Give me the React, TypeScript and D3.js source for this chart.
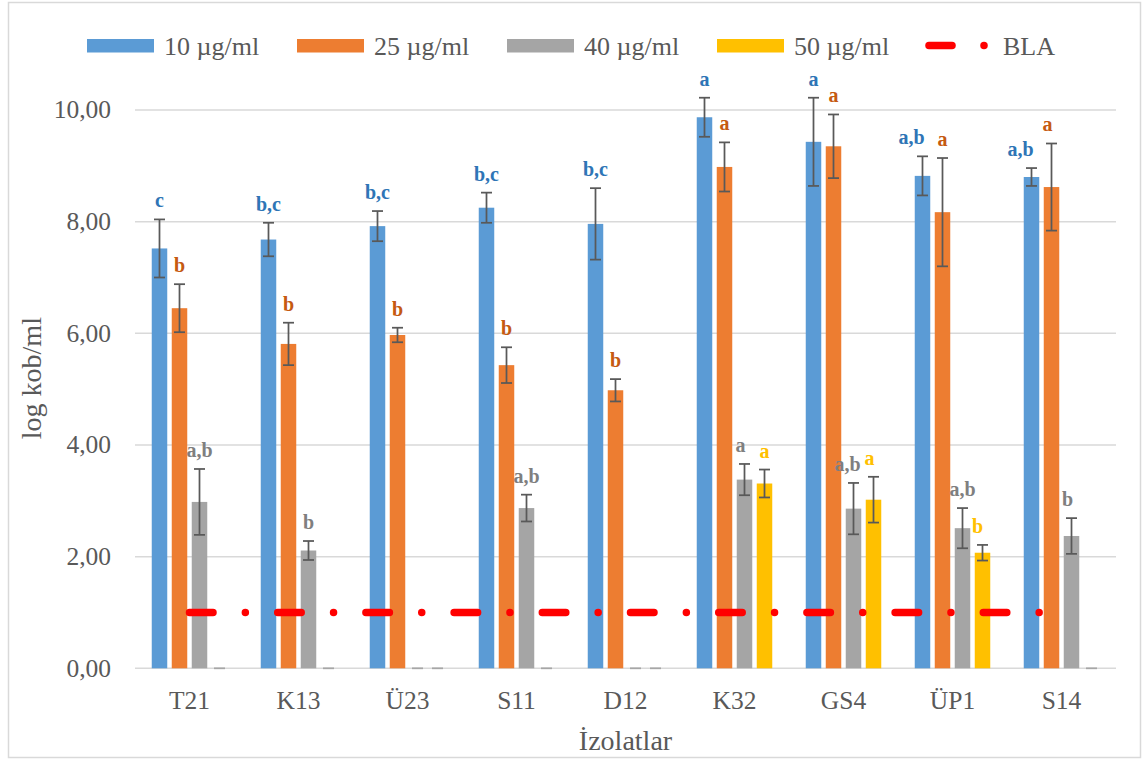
import React from "react";
import * as d3 from "d3";

// Isolates on the category axis
const categories = ["T21", "K13", "Ü23", "S11", "D12", "K32", "GS4", "ÜP1", "S14"];

// Series names (concentrations)
const seriesNames = ["10 µg/ml", "25 µg/ml", "40 µg/ml", "50 µg/ml"];

// Mean log kob/ml per isolate for each concentration
const mean10 = [7.52, 7.68, 7.92, 8.25, 7.96, 9.87, 9.43, 8.82, 8.8];
const mean25 = [6.45, 5.81, 5.97, 5.43, 4.98, 8.98, 9.35, 8.17, 8.62];
const mean40 = [2.98, 2.11, 0, 2.87, 0, 3.38, 2.86, 2.51, 2.37];
const mean50 = [0, 0, 0, 0, 0, 3.31, 3.02, 2.07, 0];

// Standard deviations (error bars)
const err10 = [0.52, 0.3, 0.27, 0.27, 0.64, 0.35, 0.79, 0.35, 0.16];
const err25 = [0.43, 0.38, 0.13, 0.32, 0.2, 0.44, 0.57, 0.97, 0.78];
const err40 = [0.59, 0.17, 0, 0.24, 0, 0.28, 0.46, 0.36, 0.32];
const err50 = [0, 0, 0, 0, 0, 0.25, 0.41, 0.14, 0];

// Significance letters
const letters10 = ["c", "b,c", "b,c", "b,c", "b,c", "a", "a", "a,b", "a,b"];
const letters25 = ["b", "b", "b", "b", "b", "a", "a", "a", "a"];
const letters40 = ["a,b", "b", "", "a,b", "", "a", "a,b", "a,b", "b"];
const letters50 = ["", "", "", "", "", "a", "a", "b", ""];

// Detection limit (BLA)
const bla = [1, 1, 1, 1, 1, 1, 1, 1, 1];

// Y axis ticks
const yTicks = [0, 2, 4, 6, 8, 10];

const means = [mean10, mean25, mean40, mean50];
const errs = [err10, err25, err40, err50];
const letters = [letters10, letters25, letters40, letters50];

const barColors = ["#5B9BD5", "#ED7D31", "#A5A5A5", "#FFC000"];
const letterColors = ["#2E75B6", "#C55A11", "#7F7F7F", "#FFC000"];
const FONT = "'Liberation Serif', 'Times New Roman', serif";
const TEXT = "#595959";

// Small horizontal nudges for letters that would collide with neighbours
const letterNudge: Record<string, number> = {
  "7-0": -11,
  "8-0": -11,
  "8-1": -4,
  "5-2": -4,
  "6-2": -6,
  "6-3": -4,
  "7-3": -5,
  "8-2": -4,
};

const fmt = (v: number) => v.toFixed(2).replace(".", ",");

export default function App() {
  const W = 1142;
  const H = 760;
  const plot = { left: 135, right: 1116, top: 110, bottom: 668.3 };

  const x0 = d3
    .scaleBand<string>()
    .domain(categories)
    .range([plot.left, plot.right])
    .paddingInner(0)
    .paddingOuter(0);

  const groupW = x0.bandwidth() * 0.6927;
  const groupOff = (x0.bandwidth() - groupW) / 2;
  const x1 = d3
    .scaleBand<number>()
    .domain([0, 1, 2, 3])
    .range([groupOff, groupOff + groupW])
    .paddingInner(0.225)
    .paddingOuter(0);

  const y = d3.scaleLinear().domain([0, 10]).range([plot.bottom, plot.top]);

  const centerX = (c: string) => (x0(c) as number) + x0.bandwidth() / 2;
  const blaLine = d3
    .line<number>()
    .x((_, i) => centerX(categories[i]))
    .y((d) => y(d));

  const capHalf = 5.5;

  return (
    <svg
      width={W}
      height={H}
      style={{ position: "absolute", left: 0, top: 0, background: "#fff" }}
      fontFamily={FONT}
    >
      <rect x={8.5} y={2.5} width={1132} height={755} fill="#fff" stroke="#d9d9d9" strokeWidth={1.5} />

      {/* gridlines */}
      {yTicks.map((t) => (
        <line
          key={"g" + t}
          x1={plot.left}
          x2={plot.right}
          y1={y(t)}
          y2={y(t)}
          stroke="#d9d9d9"
          strokeWidth={1.5}
        />
      ))}

      {/* y tick labels */}
      {yTicks.map((t) => (
        <text
          key={"t" + t}
          x={111}
          y={y(t)}
          dy="0.33em"
          textAnchor="end"
          fontSize={25.5}
          fill={TEXT}
        >
          {fmt(t)}
        </text>
      ))}

      {/* y axis title */}
      <text
        transform={`translate(41,${(plot.top + plot.bottom) / 2 - 11}) rotate(-90)`}
        textAnchor="middle"
        fontSize={28}
        fill={TEXT}
      >
        log kob/ml
      </text>

      {/* bars */}
      {categories.map((c, ci) =>
        means.map((vals, si) => {
          const v = vals[ci];
          if (v <= 0) return null;
          const bx = (x0(c) as number) + (x1(si) as number);
          return (
            <rect
              key={`b${ci}-${si}`}
              x={bx}
              y={y(v)}
              width={x1.bandwidth()}
              height={y(0) - y(v)}
              fill={barColors[si]}
            />
          );
        })
      )}

      {/* BLA detection limit line */}
      <path
        d={blaLine(bla) || ""}
        fill="none"
        stroke="#FF0000"
        strokeWidth={7.5}
        strokeLinecap="round"
        strokeDasharray="23.5 32.35 0 32.35"
      />

      {/* error bars */}
      {categories.map((c, ci) =>
        means.map((vals, si) => {
          const v = vals[ci];
          const e = errs[si][ci];
          const cx = (x0(c) as number) + (x1(si) as number) + x1.bandwidth() / 2;
          const yt = y(v + e);
          const yb = y(Math.max(0, v - e));
          return (
            <g key={`e${ci}-${si}`} stroke="#595959" strokeWidth={1.75}>
              {e > 0 && <line x1={cx} x2={cx} y1={yt} y2={yb} />}
              <line x1={cx - capHalf} x2={cx + capHalf} y1={yt} y2={yt} stroke={e > 0 ? "#595959" : "#a6a6a6"} />
              {e > 0 && <line x1={cx - capHalf} x2={cx + capHalf} y1={yb} y2={yb} />}
            </g>
          );
        })
      )}

      {/* significance letters */}
      {categories.map((c, ci) =>
        letters.map((ls, si) => {
          const s = ls[ci];
          if (!s) return null;
          const v = means[si][ci] + errs[si][ci];
          const cx =
            (x0(c) as number) +
            (x1(si) as number) +
            x1.bandwidth() / 2 +
            (letterNudge[`${ci}-${si}`] || 0);
          return (
            <text
              key={`l${ci}-${si}`}
              x={cx}
              y={y(v) - 12}
              textAnchor="middle"
              fontSize={20}
              fontWeight="bold"
              fill={letterColors[si]}
            >
              {s}
            </text>
          );
        })
      )}

      {/* category labels */}
      {categories.map((c) => (
        <text key={"c" + c} x={centerX(c)} y={709} textAnchor="middle" fontSize={25.5} fill={TEXT}>
          {c}
        </text>
      ))}

      {/* x axis title */}
      <text x={(plot.left + plot.right) / 2} y={750} textAnchor="middle" fontSize={28} fill={TEXT}>
        İzolatlar
      </text>

      {/* legend */}
      <g>
        {seriesNames.map((n, i) => {
          const lx = [87, 297, 507, 717][i];
          return (
            <g key={"lg" + n}>
              <rect x={lx} y={39} width={67} height={13.5} fill={barColors[i]} />
              <text x={lx + 77} y={46} dy="0.33em" fontSize={26} fill={TEXT}>
                {n}
              </text>
            </g>
          );
        })}
        <line x1={929} x2={952} y1={45.5} y2={45.5} stroke="#FF0000" strokeWidth={7.5} strokeLinecap="round" />
        <circle cx={984} cy={45.5} r={3.75} fill="#FF0000" />
        <text x={1003} y={46} dy="0.33em" fontSize={26} fill={TEXT}>
          BLA
        </text>
      </g>
    </svg>
  );
}
